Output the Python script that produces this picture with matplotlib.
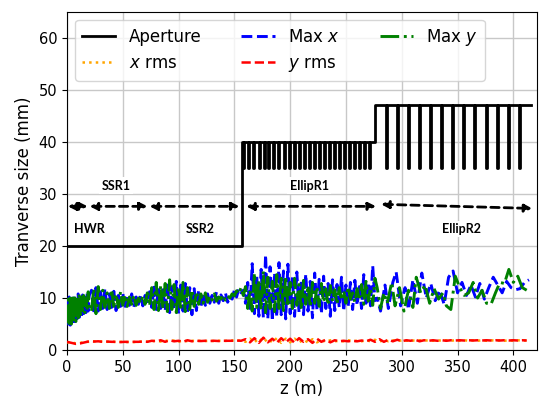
import numpy as np
import matplotlib
matplotlib.use("Agg")
import matplotlib.pyplot as plt
from matplotlib.patches import FancyArrowPatch

# ---------------- data ----------------
# Aperture layout
ap_low = 20.0
ap_r1 = 40.0
ap_r2 = 47.0
ap_tooth = 35.0
z_step1 = 157.0
z_step2 = 275.6
z_end = 416.0
cav_r1 = [158.6, 163.1, 167.6, 172.1, 176.6, 181.0, 185.5, 190.0, 194.5, 199.0,
          203.5, 208.0, 212.5, 217.0, 221.5, 226.0, 230.5, 235.0, 239.5, 244.0,
          248.4, 252.9, 257.4, 261.9, 266.4, 271.0]
cav_r2 = [286.0, 296.5, 306.3, 315.9, 325.7, 335.6, 345.7, 355.6, 365.4, 375.6,
          385.4, 395.3, 405.4]

# Max x / Max y envelopes
zA = [0, 1, 2, 3, 4, 5, 6, 7, 8, 9, 10, 11, 12, 13, 14, 15, 16, 17, 18, 19, 20]
maxx_A = [9.5, 5.0, 10.2, 4.8, 9.8, 5.5, 10.5, 5.2, 9.6, 6.0, 10.8, 6.3, 10.0, 6.5,
          10.6, 7.0, 10.2, 7.2, 11.0, 7.5, 10.5]
maxy_A = [5.2, 9.8, 4.6, 10.4, 5.0, 10.0, 5.8, 10.6, 5.5, 9.8, 6.2, 10.8, 6.8, 10.2,
          7.0, 10.5, 7.2, 10.0, 7.5, 11.2, 7.8]

zB = [22, 24, 26, 28, 30, 32, 34, 36, 38, 40, 42, 44, 46, 48, 50, 52, 54, 56, 58, 60,
      62, 64, 66, 68, 70, 72, 74, 76, 78, 80, 82, 84, 86, 88, 90, 92, 94, 96, 98, 100,
      102, 104, 106, 108, 110, 112, 114, 116, 118, 120, 122, 124, 126, 128, 130, 132,
      134, 136, 138, 140, 142, 144, 146, 148, 150, 152, 154, 156]
maxx_B = [11.5, 7.2, 12.0, 7.5, 11.2, 8.0, 11.8, 7.8, 10.8, 8.2, 11.3, 7.6, 10.5, 8.4,
          11.0, 8.0, 10.4, 8.6, 10.8, 8.3, 10.2, 8.8, 10.6, 8.5, 10.5, 9.0, 11.2, 8.2,
          12.5, 7.8, 12.0, 8.0, 11.6, 7.5, 12.8, 7.2, 12.2, 7.8, 13.2, 7.0, 12.5, 7.5,
          12.8, 7.2, 12.0, 6.8, 11.8, 7.6, 11.5, 8.2, 11.0, 8.6, 10.8, 9.0, 10.5, 9.2,
          11.2, 9.0, 10.6, 9.5, 11.0, 9.2, 10.2, 9.8, 11.5, 10.2, 11.8, 11.0]
maxy_B = [7.5, 11.8, 7.0, 12.2, 7.8, 11.5, 8.2, 11.0, 8.0, 11.6, 8.4, 10.8, 8.2, 11.2,
          8.6, 10.6, 8.4, 10.2, 8.8, 10.5, 8.6, 10.0, 9.0, 10.4, 8.8, 11.0, 8.5, 12.0,
          7.8, 13.0, 7.6, 12.4, 8.0, 12.8, 7.4, 13.5, 7.8, 12.6, 7.2, 12.2, 7.6, 13.0,
          7.4, 12.0, 7.8, 11.6, 8.4, 11.2, 8.8, 10.8, 9.0, 11.0, 9.2, 10.4, 9.6, 10.8,
          9.4, 10.2, 9.8, 10.6, 9.6, 10.4, 10.0, 10.8, 10.4, 11.4, 10.8, 12.0]

zC = [158, 160, 162, 164, 166, 168, 170, 172, 174, 176, 178, 180, 182, 184, 186, 188,
      190, 192, 194, 196, 198, 200, 202, 204, 206, 208, 210, 212, 214, 216, 218, 220,
      222, 224, 226, 228, 230, 232, 234, 236, 238, 240, 242, 244, 246, 248, 250, 252,
      254, 256, 258, 260, 262, 264, 266, 268, 270, 272, 274, 276]
maxx_C = [11.5, 9.0, 13.0, 8.0, 16.6, 7.0, 14.5, 6.5, 15.5, 6.2, 18.3, 6.0, 16.0, 5.6,
          14.8, 6.4, 16.8, 6.8, 15.2, 6.0, 16.5, 7.0, 14.0, 6.5, 15.0, 7.2, 13.5, 6.8,
          14.6, 7.5, 13.2, 6.2, 14.8, 7.8, 13.6, 7.0, 14.2, 8.0, 12.8, 6.5, 13.5, 7.6,
          12.6, 8.2, 14.0, 7.5, 12.5, 8.4, 13.0, 7.8, 13.4, 8.6, 12.2, 8.0, 14.5, 9.0,
          13.0, 8.5, 16.2, 9.5]
maxy_C = [10.5, 12.2, 8.0, 11.5, 7.5, 14.8, 8.2, 13.5, 7.8, 15.2, 7.2, 14.0, 8.0, 13.2,
          7.4, 14.5, 8.0, 13.8, 7.6, 14.2, 8.4, 13.0, 8.0, 13.8, 8.6, 12.6, 7.8, 13.4,
          8.8, 12.4, 8.2, 13.0, 9.0, 12.2, 8.4, 12.8, 9.2, 11.8, 8.6, 12.4, 9.4, 11.6,
          8.8, 12.0, 9.6, 11.4, 9.0, 12.2, 9.8, 11.0, 9.2, 11.8, 9.6, 12.6, 8.8, 13.2,
          9.4, 12.0, 8.6, 13.8]

zDx = [278, 281, 285, 288, 292, 295, 299, 303, 306, 310, 314, 318, 322, 326, 330, 334,
       338, 342, 346, 350, 354, 358, 362, 366, 370, 374, 378, 382, 386, 390, 394, 398,
       402, 406, 410, 414]
maxx_D = [10.0, 7.5, 12.5, 8.0, 13.0, 15.0, 8.5, 12.0, 7.8, 13.5, 9.0, 14.8, 10.0, 12.8,
          9.5, 11.5, 8.8, 14.0, 15.2, 11.0, 13.0, 10.5, 12.5, 10.2, 12.8, 9.8, 12.0, 14.0,
          12.5, 11.0, 13.2, 12.0, 11.6, 11.8, 13.0, 13.5]
zDy = [278, 281, 284, 287, 291, 294, 298, 302, 306, 310, 313, 317, 321, 325, 329, 333,
       337, 340, 344, 348, 352, 356, 360, 364, 368, 372, 376, 380, 384, 388, 392, 396,
       400, 404, 408, 412]
maxy_D = [12.0, 8.0, 11.0, 9.0, 13.0, 8.5, 12.0, 7.5, 11.5, 8.2, 14.0, 11.0, 12.5, 9.0,
          11.8, 9.8, 11.0, 8.5, 7.8, 14.2, 12.0, 10.5, 11.0, 13.0, 10.0, 11.5, 9.0, 8.8,
          11.0, 13.0, 12.8, 15.5, 13.0, 14.2, 12.0, 11.5]

# rms sizes
z_rms = [0, 4, 8, 12, 16, 20, 24, 28, 32, 36, 40, 44, 48, 52, 56, 60, 64, 68, 72, 76,
         80, 84, 88, 92, 96, 100, 104, 108, 112, 116, 120, 124, 128, 132, 136, 140, 144,
         148, 152, 156, 160, 164, 168, 172, 176, 180, 184, 188, 192, 196, 200, 204, 208,
         212, 216, 220, 224, 228, 232, 236, 240, 244, 248, 252, 256, 260, 264, 268, 272,
         276, 280, 284, 288, 292, 296, 300, 304, 308, 312, 316, 320, 324, 328, 332, 336,
         340, 344, 348, 352, 356, 360, 364, 368, 372, 376, 380, 384, 388, 392, 396, 400,
         404, 408, 412]
yrms = [1.6, 1.4, 1.2, 1.3, 1.5, 1.7, 1.65, 1.7, 1.6, 1.65, 1.6, 1.6, 1.55, 1.6, 1.55,
        1.6, 1.6, 1.65, 1.6, 1.8, 1.7, 1.9, 1.6, 1.9, 1.7, 1.8, 1.6, 1.9, 1.7, 1.8, 1.75,
        1.8, 1.75, 1.8, 1.75, 1.8, 1.8, 1.8, 1.85, 1.8, 2.1, 1.5, 2.3, 1.4, 2.4, 1.5, 2.2,
        1.4, 2.3, 1.5, 2.2, 1.4, 2.3, 1.6, 2.1, 1.4, 2.2, 1.6, 2.0, 1.5, 1.9, 1.7, 1.8,
        1.7, 1.8, 1.7, 1.85, 1.7, 2.0, 1.6, 2.1, 1.6, 2.0, 1.7, 2.0, 1.7, 1.9, 1.8, 2.0,
        1.7, 1.9, 1.8, 1.9, 1.8, 1.9, 1.8, 1.9, 1.85, 1.9, 1.85, 1.9, 1.85, 1.9, 1.85,
        1.9, 1.85, 1.9, 1.85, 1.9, 1.85, 1.9, 1.85, 1.9, 1.85]
xrms = [1.5, 1.5, 1.3, 1.4, 1.6, 1.6, 1.7, 1.6, 1.7, 1.6, 1.65, 1.55, 1.6, 1.55, 1.6,
        1.55, 1.65, 1.6, 1.65, 1.7, 1.85, 1.65, 1.85, 1.7, 1.85, 1.65, 1.85, 1.7, 1.8,
        1.75, 1.8, 1.75, 1.8, 1.75, 1.8, 1.75, 1.8, 1.85, 1.8, 1.85, 1.6, 2.2, 1.5, 2.3,
        1.5, 2.2, 1.5, 2.3, 1.4, 2.2, 1.5, 2.2, 1.5, 2.0, 1.5, 2.1, 1.5, 1.9, 1.6, 1.9,
        1.7, 1.8, 1.7, 1.9, 1.7, 1.8, 1.7, 1.9, 1.7, 2.0, 1.6, 2.0, 1.7, 1.9, 1.7, 1.9,
        1.8, 1.9, 1.8, 1.9, 1.8, 1.9, 1.8, 1.9, 1.8, 1.9, 1.8, 1.9, 1.8, 1.9, 1.8, 1.9,
        1.8, 1.9, 1.8, 1.9, 1.8, 1.9, 1.8, 1.9, 1.8, 1.9, 1.8, 1.9]

# section labels and arrows
sections = ["HWR", "SSR1", "SSR2", "EllipR1", "EllipR2"]
label_z = [20.3, 44.0, 119.0, 217.0, 353.5]
label_y = [23.3, 31.6, 23.3, 31.6, 23.3]
arrow_z0 = [0.8, 20.3, 74.0, 160.6, 281.5]
arrow_z1 = [18.6, 72.3, 154.6, 277.0, 417.0]
arrow_y0 = [27.6, 27.6, 27.6, 27.6, 28.0]
arrow_y1 = [27.6, 27.6, 27.6, 27.6, 27.2]

# ---------------- build aperture polyline ----------------
tw = 0.45
ap_z = [0.0, z_step1, z_step1]
ap_v = [ap_low, ap_low, ap_r1]
for c in cav_r1:
    ap_z += [c - tw, c - tw, c + tw, c + tw]
    ap_v += [ap_r1, ap_tooth, ap_tooth, ap_r1]
ap_z += [z_step2, z_step2]
ap_v += [ap_r1, ap_r2]
for c in cav_r2:
    ap_z += [c - tw, c - tw, c + tw, c + tw]
    ap_v += [ap_r2, ap_tooth, ap_tooth, ap_r2]
ap_z += [z_end]
ap_v += [ap_r2]

z_maxx = zA + zB + zC + zDx
v_maxx = maxx_A + maxx_B + maxx_C + maxx_D
z_maxy = zA + zB + zC + zDy
v_maxy = maxy_A + maxy_B + maxy_C + maxy_D

# ---------------- plot ----------------
fig = plt.figure(figsize=(5.4, 3.97), dpi=100)
ax = fig.add_axes([0.124, 0.118, 0.870, 0.853])

ax.plot(ap_z, ap_v, color="black", lw=2.0, label="Aperture", zorder=3)
ax.plot(z_rms, xrms, color="orange", ls=":", lw=1.8, label="$x$ rms", zorder=3)
ax.plot(z_maxx, v_maxx, color="blue", ls="--", lw=2.1, label="Max $x$", zorder=3)
ax.plot(z_rms, yrms, color="red", ls="--", lw=1.8, label="$y$ rms", zorder=3)
ax.plot(z_maxy, v_maxy, color="green", ls="-.", lw=2.1, label="Max $y$", zorder=3)

for name, lz, ly in zip(sections, label_z, label_y):
    ax.text(lz, ly, name, ha="center", va="center", fontsize=9,
            fontweight="bold", family="Lato",
            bbox=dict(facecolor="white", edgecolor="none", pad=1.5), zorder=4)

for x0, x1, y0, y1 in zip(arrow_z0, arrow_z1, arrow_y0, arrow_y1):
    arr = FancyArrowPatch((x0, y0), (x1, y1), arrowstyle="<|-|>",
                          mutation_scale=11, lw=2.0, ls=(0, (3, 1.8)),
                          color="black", shrinkA=0, shrinkB=0, zorder=5)
    ax.add_patch(arr)

ax.set_xlim(0, 421)
ax.set_ylim(0, 65)
ax.set_xticks([0, 50, 100, 150, 200, 250, 300, 350, 400])
ax.set_yticks([0, 10, 20, 30, 40, 50, 60])
ax.tick_params(labelsize=10.5)
ax.grid(True, color="#c8c8c8", lw=1.0, zorder=0)
ax.set_axisbelow(True)
ax.set_xlabel("z (m)", fontsize=12)
ax.set_ylabel("Tranverse size (mm)", fontsize=12)

ax.legend(loc="upper left", ncol=3, fontsize=12, framealpha=0.8,
          handlelength=2.0, columnspacing=2.4, borderaxespad=0.5)

fig.savefig("out.png", dpi=100)
